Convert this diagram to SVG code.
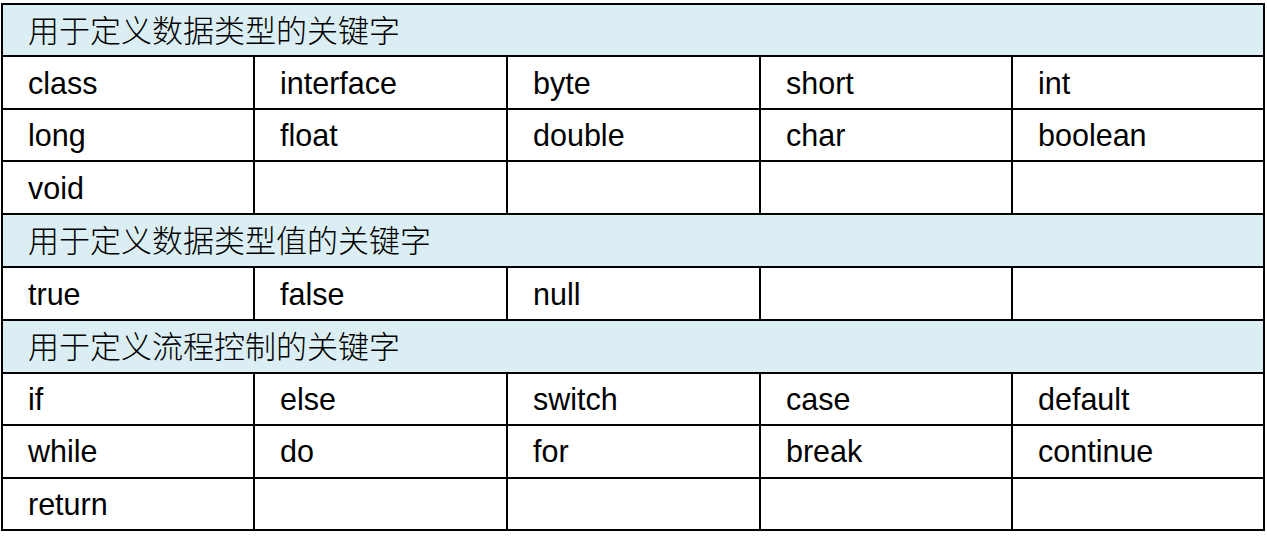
<svg xmlns="http://www.w3.org/2000/svg" width="1267" height="542" viewBox="0 0 1267 542">
<style>
.h{fill:#dbeef3}
.g{stroke:#000;stroke-width:2;fill:none}
text{font-family:"Liberation Sans",Arial,sans-serif;font-size:30.5px;fill:#000}
.c{font-family:"Noto Sans CJK SC","Liberation Sans",sans-serif;font-size:31px;font-weight:300}
</style>
<rect width="1267" height="542" fill="#fff"/>
<g id="headers">
<rect class="h" x="2" y="4" width="1262" height="52"/>
<rect class="h" x="2" y="214" width="1262" height="53"/>
<rect class="h" x="2" y="320" width="1262" height="53"/>
</g>
<g id="grid" class="g">
<rect x="2" y="4" width="1262" height="526"/>
<path d="M2 56H1264M2 109H1264M2 161H1264M2 214H1264M2 267H1264M2 320H1264M2 373H1264M2 425H1264M2 478H1264"/>
<path d="M254 56V214M507 56V214M760 56V214M1012 56V214M254 267V320M507 267V320M760 267V320M1012 267V320M254 373V530M507 373V530M760 373V530M1012 373V530"/>
</g>
<g id="text">
<text class="c" x="28" y="42">用于定义数据类型的关键字</text>
<text x="28" y="94">class</text><text x="280" y="94">interface</text><text x="533" y="94">byte</text><text x="786" y="94">short</text><text x="1038" y="94">int</text>
<text x="28" y="146">long</text><text x="280" y="146">float</text><text x="533" y="146">double</text><text x="786" y="146">char</text><text x="1038" y="146">boolean</text>
<text x="28" y="199">void</text>
<text class="c" x="28" y="252">用于定义数据类型值的关键字</text>
<text x="28" y="305">true</text><text x="280" y="305">false</text><text x="533" y="305">null</text>
<text class="c" x="28" y="358">用于定义流程控制的关键字</text>
<text x="28" y="410">if</text><text x="280" y="410">else</text><text x="533" y="410">switch</text><text x="786" y="410">case</text><text x="1038" y="410">default</text>
<text x="28" y="462">while</text><text x="280" y="462">do</text><text x="533" y="462">for</text><text x="786" y="462">break</text><text x="1038" y="462">continue</text>
<text x="28" y="515">return</text>
</g>
</svg>
